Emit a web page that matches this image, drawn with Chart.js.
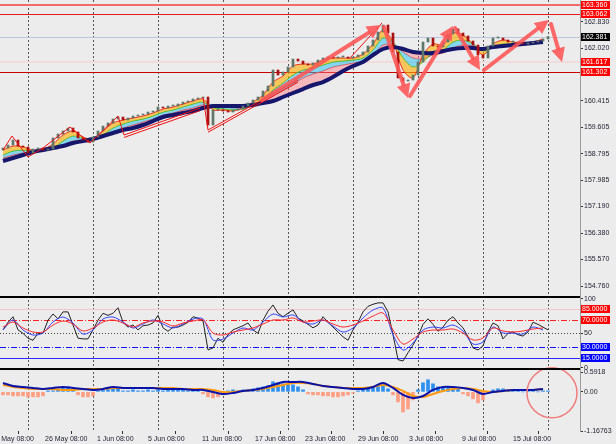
<!DOCTYPE html>
<html>
<head>
<meta charset="utf-8">
<script src="https://cdn.jsdelivr.net/npm/chart.js@4.4.1/dist/chart.umd.min.js"></script>
<style>
  html, body { margin: 0; padding: 0; background: #ececec; }
  #wrap { width: 616px; height: 444px; position: relative; }
</style>
</head>
<body>
<div id="wrap"><canvas id="chart" width="616" height="444"></canvas></div>
<script>
// ---- values (one candle per bar, MAs / slow lines every 2nd bar) ----
const firstOpen = 158.917;
const closes = [
  158.978,159.070,159.222,159.039,159.009,158.825,158.947,158.978,158.917,158.947,
  159.284,159.406,159.498,159.589,159.467,159.284,159.222,159.161,159.314,159.498,
  159.650,159.742,159.864,159.925,159.834,159.895,159.956,159.987,160.017,160.078,
  160.109,160.231,160.201,160.262,160.262,160.323,160.384,160.415,160.476,160.506,
  160.537,159.681,160.140,160.140,160.109,160.078,160.140,160.170,160.262,160.353,
  160.445,160.537,160.720,160.873,161.362,161.209,161.301,161.454,161.698,161.637,
  161.546,161.515,161.576,161.668,161.729,161.760,161.729,161.760,161.760,161.729,
  161.760,161.821,161.912,162.096,162.279,162.524,162.738,162.493,161.912,161.118,
  161.026,161.057,161.209,161.607,162.218,162.340,162.096,162.065,162.218,162.463,
  162.616,162.493,162.402,162.249,162.126,161.821,161.729,162.096,162.340,162.340,
  162.279,162.218,162.218,162.188,162.157,162.188,162.218,162.249,162.310,162.381
];
const maFast = [
  158.917,159.039,159.009,158.917,158.947,159.100,159.375,159.498,159.314,159.253,
  159.498,159.742,159.834,159.895,159.956,160.048,160.170,160.231,160.323,160.415,
  160.476,160.140,160.140,160.109,160.201,160.384,160.598,160.995,161.179,161.485,
  161.546,161.546,161.668,161.729,161.729,161.729,161.851,162.157,162.585,162.218,
  161.362,161.118,161.821,162.157,162.126,162.493,162.432,162.157,161.821,162.157,
  162.279,162.218,162.188,162.218,162.310
];
const maMid = [
  158.764,158.886,158.917,158.886,158.917,158.978,159.192,159.345,159.284,159.222,
  159.375,159.589,159.712,159.803,159.864,159.956,160.078,160.140,160.231,160.323,
  160.384,160.201,160.170,160.140,160.170,160.292,160.445,160.751,160.965,161.209,
  161.362,161.423,161.515,161.607,161.637,161.668,161.729,161.974,162.340,162.218,
  161.729,161.454,161.607,161.912,161.974,162.218,162.279,162.157,161.943,162.065,
  162.157,162.157,162.157,162.188,162.249
];
const maSlow = [
  158.672,158.764,158.825,158.856,158.886,158.947,159.070,159.192,159.222,159.222,
  159.314,159.467,159.589,159.681,159.773,159.864,159.987,160.048,160.140,160.201,
  160.292,160.231,160.231,160.201,160.201,160.262,160.384,160.567,160.751,160.934,
  161.118,161.240,161.332,161.454,161.515,161.576,161.637,161.821,162.126,162.126,
  161.912,161.729,161.698,161.821,161.882,162.035,162.126,162.096,161.974,162.035,
  162.096,162.126,162.126,162.157,162.218
];
const maNavy = [
  158.581,158.672,158.764,158.856,158.917,158.978,159.039,159.131,159.192,159.253,
  159.345,159.436,159.528,159.589,159.681,159.803,159.925,159.987,160.048,160.109,
  160.201,160.262,160.262,160.262,160.262,160.292,160.353,160.415,160.537,160.659,
  160.781,160.904,160.995,161.148,161.332,161.485,161.607,161.821,162.004,162.065,
  162.004,161.912,161.882,161.882,161.943,162.004,162.035,162.035,162.004,162.065,
  162.096,162.126,162.157,162.188,162.218
];
const rsiBlack = [
  55,66,74,55,50,43,40,50,50,69, 78,71,81,81,62,43,42,42,55,69,
  79,76,79,87,66,59,62,55,61,62, 65,76,58,53,59,59,62,66,74,72,
  68,26,29,43,37,48,55,58,61,65, 55,50,69,82,91,79,74,79,84,72,
  68,63,58,62,74,66,59,52,45,40, 55,66,81,89,92,94,94,81,48,12,
  10,22,33,46,63,71,63,53,59,69, 74,65,58,45,29,26,32,52,65,61,
  42,50,52,48,46,52,66,63,59,55
];
const rsiBlue = [
  54.8,69.3,54.8,47.6,50.5,66.4,73.6,64.9,49.0,54.8,
  70.7,73.6,66.4,57.7,63.5,69.3,63.5,57.7,63.5,70.7,
  70.7,40.4,41.8,50.5,57.7,54.8,66.4,77.9,73.6,76.5,
  66.4,63.5,69.3,60.6,51.9,57.7,72.2,83.7,86.6,48.0,
  25.9,36.0,54.8,59.1,57.7,62.0,53.4,34.6,37.5,59.1,
  50.5,50.5,49.0,59.1,54.8
];
const rsiRed = [
  59.1,66.4,57.7,51.9,51.9,62.0,67.8,63.5,53.4,57.7,
  66.4,69.3,64.9,59.1,64.9,67.8,66.4,60.6,64.9,67.8,
  69.3,50.5,47.6,51.9,54.8,57.7,63.5,69.3,69.3,72.2,
  66.4,67.8,69.3,63.5,59.1,62.0,67.8,75.0,79.4,55.0,
  34.6,41.8,51.9,54.8,54.8,56.3,50.5,40.4,43.3,57.7,
  53.4,51.9,53.4,56.3,57.7
];
const macdHist = [
  -0.09,-0.09,-0.12,-0.12,-0.12,-0.15,-0.15,-0.15,-0.12,0.03,
  0.03,0.06,0.12,0.15,0.09,-0.09,-0.15,-0.15,-0.12,0.03,
  0.06,0.09,0.09,0.12,0.03,0.03,0.06,0.03,0.03,0.06,
  0.03,0.06,0.03,0.06,0.06,0.06,0.06,0.03,0.03,0.03,
  -0.06,-0.15,-0.18,-0.15,-0.09,0.03,0.06,0.03,0.06,0.06,
  0.09,0.12,0.15,0.18,0.30,0.27,0.24,0.21,0.21,0.15,
  0.06,-0.06,-0.09,-0.09,-0.12,-0.12,-0.15,-0.15,-0.12,-0.09,
  -0.03,0.03,0.06,0.09,0.15,0.18,0.21,0.09,-0.09,-0.30,
  -0.60,-0.51,-0.24,0.06,0.27,0.36,0.24,0.15,0.12,0.15,
  0.12,0.09,-0.06,-0.12,-0.21,-0.33,-0.24,-0.03,0.06,0.09,
  0.09,0.03,0.03,0.03,0.00,0.03,0.03,0.00,0.03,0.03
];
const macdMain = [
  0.265,0.176,0.146,0.116,0.087,0.116,0.146,0.116,0.087,0.057,
  0.087,0.146,0.116,0.116,0.116,0.116,0.087,0.087,0.087,0.057,
  0.057,-0.003,-0.063,-0.033,0.027,0.057,0.116,0.206,0.295,0.295,
  0.295,0.236,0.176,0.146,0.116,0.087,0.087,0.146,0.265,0.116,
  -0.092,-0.182,-0.122,0.057,0.146,0.146,0.116,0.057,-0.063,-0.003,
  0.027,0.057,0.057,0.057,0.087
];
const macdSignal = [
  0.206,0.146,0.116,0.087,0.087,0.087,0.057,0.057,0.087,0.087,
  0.087,0.116,0.116,0.116,0.116,0.116,0.116,0.116,0.087,0.087,
  0.087,0.057,-0.003,-0.003,0.027,0.057,0.087,0.146,0.206,0.265,
  0.265,0.236,0.176,0.146,0.116,0.116,0.116,0.146,0.206,0.146,
  0.027,-0.122,-0.152,-0.063,0.027,0.087,0.116,0.087,0.027,-0.003,
  0.027,0.057,0.057,0.057,0.087
];

// zigzag / channel lines (bar, price), null breaks a segment
const zigBars   = [0, 1.8, 5, 8, 13.4, 17.4, 23, 24.2, 39.4, null,
                   24.2, 39.4, null, 40, 41, 59, null, 41, 59, null, 69.4, 75.8];
const zigPrices = [158.917, 159.345, 158.703, 158.978, 159.620, 159.131, 159.956, 159.375, 160.201, null,
                   159.300, 160.120, null, 160.537, 159.528, 161.057, null, 159.460, 160.990, null, 161.729, 162.800];
// hand-drawn arrows: [fromBar, fromPrice, toBar, toPrice]
const arrows = [
  [51.8, 160.445, 75.6, 162.738],
  [76.2, 162.677, 81.0, 160.506],
  [81.4, 160.567, 90.0, 162.707],
  [90.4, 162.646, 95.4, 161.362],
  [96.2, 161.362, 109.2, 162.891],
  [109.6, 162.768, 111.8, 161.607]
];
const circleAt = [109.8, -0.03];

const gridBars = [5, 18, 31, 44, 57, 70, 83, 96, 109];
const dateBars = [-2.3, 8.4, 18.8, 29, 39.8, 50.4, 60.4, 71, 81.2, 91.8, 102];
const dateLabels = ['20 May 08:00','26 May 08:00','1 Jun 08:00','5 Jun 08:00','11 Jun 08:00',
  '17 Jun 08:00','23 Jun 08:00','29 Jun 08:00','3 Jul 08:00','9 Jul 08:00','15 Jul 08:00'];
const priceTicks = [162.830, 162.020, 161.225, 160.415, 159.605, 158.795, 157.985, 157.190, 156.380, 155.570, 154.760];
const priceLevels = [163.360, 163.062, 162.381, 161.617, 161.302];
const rsiTicks = [100, 50, 0];
const rsiLevels = [85, 70, 50, 30, 15];
const macdTicks = [0.5918, 0, -1.16763];

// ---- build library tables ----
const perBar = arr => arr.map((v, i) => ({x: i, y: v}));
const perTwo = arr => arr.map((v, k) => ({x: 2 * k, y: v}));
const candles = closes.map((c, i) => ({x: i, y: [i ? closes[i - 1] : firstOpen, c]}));
const candleColors = candles.map(d => d.y[1] >= d.y[0] ? '#5f7768' : '#a81212');
const histColors = macdHist.map(v => v >= 0 ? '#2d8ff0' : '#ff9f82');
const zig = zigBars.map((b, i) => ({x: b === null ? 0 : b, y: zigPrices[i]}));

Chart.defaults.font.family = '"Liberation Sans", Arial, sans-serif';
Chart.defaults.font.size = 7;
Chart.defaults.color = '#1e1e2e';

const line = (data, color, width, yAxisID, extra) => Object.assign({
  type: 'line', data, borderColor: color, borderWidth: width, pointRadius: 0,
  yAxisID, xAxisID: 'x', fill: false, tension: 0
}, extra || {});

const panels = {
  id: 'panels',
  beforeDraw(chart) {
    const {ctx, width, height} = chart;
    ctx.save();
    ctx.fillStyle = '#ececec';
    ctx.fillRect(0, 0, width, height);
    ctx.restore();
  },
  beforeDatasetsDraw(chart) {
    const {ctx, chartArea, scales} = chart;
    ctx.save();
    ctx.lineWidth = 1;
    ctx.strokeStyle = '#555';
    ctx.setLineDash([2, 2]);
    gridBars.forEach(b => {
      const px = Math.round(scales.x.getPixelForValue(b)) + 0.5;
      ctx.beginPath(); ctx.moveTo(px, chartArea.top); ctx.lineTo(px, chartArea.bottom); ctx.stroke();
    });
    const hline = (scale, v, color, w, dash) => {
      const py = Math.round(scale.getPixelForValue(v)) + (w % 2 ? 0.5 : 0);
      ctx.strokeStyle = color; ctx.lineWidth = w; ctx.setLineDash(dash);
      ctx.beginPath(); ctx.moveTo(chartArea.left, py); ctx.lineTo(chartArea.right, py); ctx.stroke();
    };
    const priceStyles = [['#f26a6a', 2, []], ['#e81c1c', 1, []], ['#b9c6dc', 1, []], ['#f1dcdc', 2, []], ['#c80000', 1, []]];
    priceLevels.forEach((v, i) => hline(scales.y, v, ...priceStyles[i]));
    const rsiStyles = [['#f4c8c8', 1, []], ['#ff2020', 1, [6, 2, 1, 2]], ['#444', 1, [1, 2]], ['#1010ff', 1, [6, 2, 1, 2]], ['#2a2aff', 1, []]];
    rsiLevels.forEach((v, i) => hline(scales.yRsi, v, ...rsiStyles[i]));
    ctx.restore();
  },
  afterDatasetsDraw(chart) {
    const {ctx, chartArea, scales} = chart;
    ctx.save();
    // arrows
    ctx.strokeStyle = 'rgba(255,84,84,0.88)';
    ctx.fillStyle = 'rgba(255,84,84,0.88)';
    ctx.lineWidth = 4;
    ctx.lineCap = 'round';
    arrows.forEach(a => {
      const x1 = scales.x.getPixelForValue(a[0]), y1 = scales.y.getPixelForValue(a[1]);
      const x2 = scales.x.getPixelForValue(a[2]), y2 = scales.y.getPixelForValue(a[3]);
      const ang = Math.atan2(y2 - y1, x2 - x1), head = 14, hw = 7;
      const bx = x2 - head * Math.cos(ang), by = y2 - head * Math.sin(ang);
      ctx.beginPath(); ctx.moveTo(x1, y1); ctx.lineTo(bx, by); ctx.stroke();
      ctx.beginPath();
      ctx.moveTo(x2, y2);
      ctx.lineTo(bx + hw * Math.sin(ang), by - hw * Math.cos(ang));
      ctx.lineTo(bx - hw * Math.sin(ang), by + hw * Math.cos(ang));
      ctx.closePath(); ctx.fill();
    });
    // circle in the MACD pane
    ctx.strokeStyle = '#f07c7c'; ctx.lineWidth = 1.5;
    ctx.beginPath();
    ctx.arc(scales.x.getPixelForValue(circleAt[0]), scales.yMacd.getPixelForValue(circleAt[1]), 25, 0, Math.PI * 2);
    ctx.stroke();
    // pane separators
    ctx.fillStyle = '#000';
    [scales.y.bottom, scales.yRsi.bottom].forEach(b => ctx.fillRect(chartArea.left, Math.round(b) - 1, chartArea.right - chartArea.left, 2));
    ctx.restore();
  },
  afterDraw(chart) {
    const {ctx, chartArea, scales} = chart;
    ctx.save();
    ctx.font = '7px "Liberation Sans", Arial, sans-serif';
    ctx.textBaseline = 'middle';
    const box = (scale, v, text, bg) => {
      const py = Math.round(scale.getPixelForValue(v));
      ctx.fillStyle = bg;
      ctx.fillRect(chartArea.right + 1, py - 4, 29, 8);
      ctx.fillStyle = '#fff';
      ctx.fillText(text, chartArea.right + 2, py + 0.5);
    };
    const priceBg = ['#ff0000', '#ff0000', '#000000', '#ff0000', '#ff0000'];
    priceLevels.forEach((v, i) => box(scales.y, v, v.toFixed(3), priceBg[i]));
    const rsiBg = {85: '#ff0000', 70: '#ff0000', 30: '#0000ff', 15: '#0000ff'};
    rsiLevels.forEach(v => { if (rsiBg[v]) box(scales.yRsi, v, v.toFixed(4), rsiBg[v]); });
    ctx.restore();
  }
};

const yAxis = (min, max, weight, order, tickVals, fmt) => ({
  type: 'linear', position: 'right', stack: 'panes', stackWeight: weight, weight: order,
  min, max, offset: false,
  border: {display: true, color: '#9c9c9c'},
  grid: {drawOnChartArea: false, drawTicks: true, tickLength: 3, tickColor: '#303030'},
  ticks: {padding: 1, autoSkip: false, callback: fmt},
  afterBuildTicks: s => { s.ticks = tickVals.map(v => ({value: v})); },
  afterFit: s => { s.width = 36; s.paddingTop = 0; s.paddingBottom = 0; }
});

new Chart(document.getElementById('chart'), {
  type: 'line',
  data: {
    datasets: [
      {type: 'bar', data: candles, backgroundColor: candleColors, barThickness: 2, minBarLength: 1,
       grouped: false, yAxisID: 'y', xAxisID: 'x', order: 1},
      line(perTwo(maFast), 'rgba(235,40,20,0.95)', 1, 'y', {fill: '+1', backgroundColor: 'rgba(255,175,0,0.6)', tension: 0.3, order: 3}),
      line(perTwo(maMid), '#1fc22e', 1, 'y', {fill: '+1', backgroundColor: 'rgba(30,190,240,0.5)', tension: 0.3, order: 4}),
      line(perTwo(maSlow), '#ff4a4a', 1, 'y', {fill: '+1', backgroundColor: 'rgba(255,120,130,0.45)', tension: 0.3, order: 5}),
      line(perTwo(maNavy), '#16166c', 4, 'y', {tension: 0.3, order: 2}),
      line(zig, '#ee1111', 1, 'y', {spanGaps: false, order: 0}),
      line(perBar(rsiBlack), '#222', 1, 'yRsi', {order: 8}),
      line(perTwo(rsiBlue), '#3344ff', 1, 'yRsi', {tension: 0.3, order: 7}),
      line(perTwo(rsiRed), '#ff2a2a', 1, 'yRsi', {tension: 0.3, order: 6}),
      {type: 'bar', data: perBar(macdHist), backgroundColor: histColors, barThickness: 3,
       grouped: false, yAxisID: 'yMacd', xAxisID: 'x', order: 11},
      line(perTwo(macdSignal), '#ff9a10', 2, 'yMacd', {tension: 0.3, order: 10}),
      line(perTwo(macdMain), '#0a12a8', 2, 'yMacd', {tension: 0.3, order: 9})
    ]
  },
  options: {
    responsive: false, animation: false, devicePixelRatio: 1, events: [],
    layout: {padding: 0},
    plugins: {legend: {display: false}, tooltip: {enabled: false}},
    scales: {
      x: {
        type: 'linear', position: 'bottom', min: -0.6, max: 115.4, offset: false,
        border: {display: false},
        grid: {drawOnChartArea: false, drawTicks: true, tickLength: 3, tickColor: '#303030'},
        ticks: {align: 'start', padding: 1, autoSkip: false, maxRotation: 0, minRotation: 0,
                callback: (v, i) => dateLabels[i]},
        afterBuildTicks: s => { s.ticks = dateBars.map(v => ({value: v})); },
        afterFit: s => { s.height = 13; s.paddingLeft = 0; s.paddingRight = 0; }
      },
      y: yAxis(154.424, 163.502, 297, 0, priceTicks, v => v.toFixed(3)),
      yRsi: yAxis(-1.5, 102.5, 72, 1, rsiTicks, v => String(v)),
      yMacd: yAxis(-1.16763, 0.682, 62, 2, macdTicks, v => v === 0 ? '0.00' : String(v))
    }
  },
  plugins: [panels]
});
</script>
</body>
</html>
